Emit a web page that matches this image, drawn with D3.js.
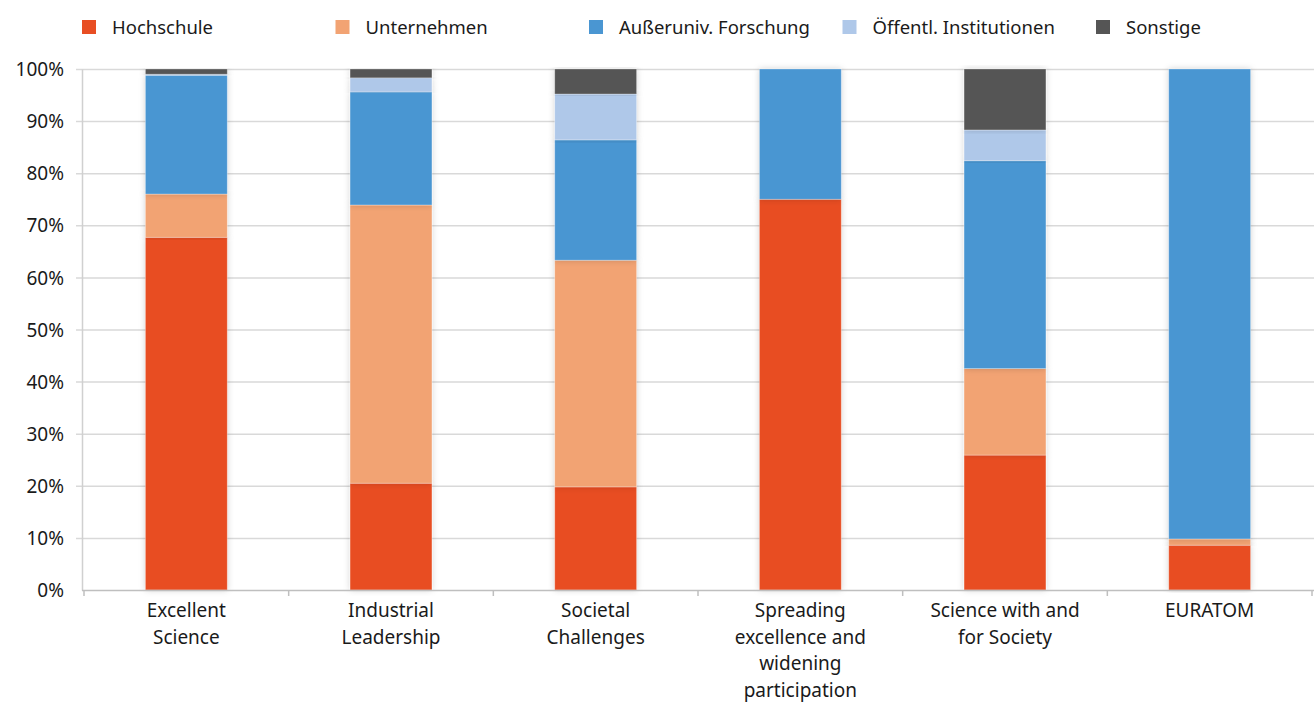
<!DOCTYPE html>
<html>
<head>
<meta charset="utf-8">
<script src="https://cdn.jsdelivr.net/npm/d3@7"></script>
<style>
  body { margin: 0; background: #fff; }
  svg text { font-family: "Noto Sans", sans-serif; fill: #1a1a1a; }
</style>
</head>
<body>
<div id="the_chart"></div>
<script>
// categories and series (percent shares)
var categories = [
    ["Excellent", "Science"],
    ["Industrial", "Leadership"],
    ["Societal", "Challenges"],
    ["Spreading", "excellence and", "widening", "participation"],
    ["Science with and", "for Society"],
    ["EURATOM"]
];
var seriesNames = ["Hochschule", "Unternehmen", "Außeruniv. Forschung", "Öffentl. Institutionen", "Sonstige"];
var seriesColors = ["#e84e23", "#f2a373", "#4a96d2", "#afc8e9", "#555555"];

var hochschule   = [67.7, 20.5, 19.8, 75.0, 25.9, 8.6];
var unternehmen  = [8.3, 53.4, 43.5, 0, 16.6, 1.2];
var ausseruniv   = [22.8, 21.7, 23.1, 25.0, 39.9, 90.2];
var oeffentl     = [0.2, 2.7, 8.8, 0, 5.9, 0];
var sonstige     = [1.0, 1.7, 4.8, 0, 11.7, 0];

var yTicks = [0, 10, 20, 30, 40, 50, 60, 70, 80, 90, 100];

var w = 1314, h = 702;
var padLeft = 82, padRight = 1312, padTop = 69, padBottom = 590;
var bandLeft = 84;

var svg = d3.select("#the_chart")
    .append("svg")
    .attr("width", w)
    .attr("height", h);

var defs = svg.append("defs");
var filt = defs.append("filter").attr("id", "shadow")
    .attr("x", "-20%").attr("y", "-5%").attr("width", "140%").attr("height", "110%");
filt.append("feDropShadow")
    .attr("dx", 0).attr("dy", 0).attr("stdDeviation", 3)
    .attr("flood-color", "#000").attr("flood-opacity", 0.18);

var rows = categories.map(function(c, i) {
    return {
        idx: i,
        "Hochschule": hochschule[i],
        "Unternehmen": unternehmen[i],
        "Außeruniv. Forschung": ausseruniv[i],
        "Öffentl. Institutionen": oeffentl[i],
        "Sonstige": sonstige[i]
    };
});

var xscale = d3.scaleBand()
    .domain(d3.range(categories.length))
    .range([bandLeft, padRight])
    .paddingInner(0.6)
    .paddingOuter(0.3);

var yscale = d3.scaleLinear()
    .domain([0, 100])
    .range([padBottom, padTop]);

// gridlines
svg.append("g")
    .selectAll("line")
    .data(yTicks.slice(1))
    .enter().append("line")
    .attr("x1", padLeft - 6).attr("x2", w)
    .attr("y1", function(d) { return yscale(d) + 0.5; })
    .attr("y2", function(d) { return yscale(d) + 0.5; })
    .attr("stroke", "#d9d9d9")
    .attr("stroke-width", 1.5);

// y axis labels
var yaxis = d3.axisLeft(yscale)
    .tickValues(yTicks)
    .tickFormat(function(d) { return d + "%"; })
    .tickSize(0)
    .tickPadding(18);

var gY = svg.append("g")
    .attr("transform", "translate(" + padLeft + ",0)")
    .call(yaxis);
gY.select(".domain").attr("stroke", "#d0d0d0").attr("stroke-width", 1.5);
gY.selectAll("text")
    .style("font-size", "19px")
    .attr("fill", "#1a1a1a")
    .attr("dy", "0.35em");

// stacked bars
var stack = d3.stack().keys(seriesNames);
var layers = stack(rows);

var gBars = svg.append("g");
layers.forEach(function(layer, li) {
    gBars.selectAll("rect.s" + li)
        .data(layer.filter(function(d) { return d[1] - d[0] > 0; }))
        .enter().append("rect")
        .attr("class", "s" + li)
        .attr("x", function(d) { return xscale(d.data.idx); })
        .attr("width", xscale.bandwidth())
        .attr("y", function(d) { return yscale(d[1]); })
        .attr("height", function(d) { return yscale(d[0]) - yscale(d[1]); })
        .attr("fill", seriesColors[li])
        .attr("stroke", "rgba(255,255,255,0.35)")
        .attr("stroke-width", 0.8)
        .attr("filter", "url(#shadow)");
});

// x axis
var step = xscale.step();
var boundaries = d3.range(categories.length + 1).map(function(i) {
    return xscale(0) + xscale.bandwidth() / 2 - step / 2 + i * step;
});
svg.append("line")
    .attr("x1", padLeft).attr("x2", w)
    .attr("y1", padBottom + 0.5).attr("y2", padBottom + 0.5)
    .attr("stroke", "#bfbfbf").attr("stroke-width", 1.5);
svg.append("g").selectAll("line")
    .data(boundaries)
    .enter().append("line")
    .attr("x1", function(d) { return d; }).attr("x2", function(d) { return d; })
    .attr("y1", padBottom).attr("y2", padBottom + 6)
    .attr("stroke", "#bfbfbf").attr("stroke-width", 1.5);

var labels = svg.append("g").selectAll("text")
    .data(categories)
    .enter().append("text")
    .attr("text-anchor", "middle")
    .attr("x", function(d, i) { return xscale(i) + xscale.bandwidth() / 2; })
    .attr("y", 617)
    .style("font-size", "19px");
labels.selectAll("tspan")
    .data(function(d) { return d; })
    .enter().append("tspan")
    .attr("x", function() { return d3.select(this.parentNode).attr("x"); })
    .attr("dy", function(d, i) { return i == 0 ? 0 : 26.5; })
    .text(function(d) { return d; });

// legend
var legend = svg.append("g").selectAll("g")
    .data(seriesNames)
    .enter().append("g")
    .attr("transform", function(d, i) { return "translate(" + (82 + i * 253.5) + ",20)"; });
legend.append("rect")
    .attr("width", 14).attr("height", 14)
    .attr("fill", function(d, i) { return seriesColors[i]; });
legend.append("text")
    .attr("x", 30).attr("y", 14)
    .style("font-size", "18.5px")
    .text(function(d) { return d; });
</script>
</body>
</html>
